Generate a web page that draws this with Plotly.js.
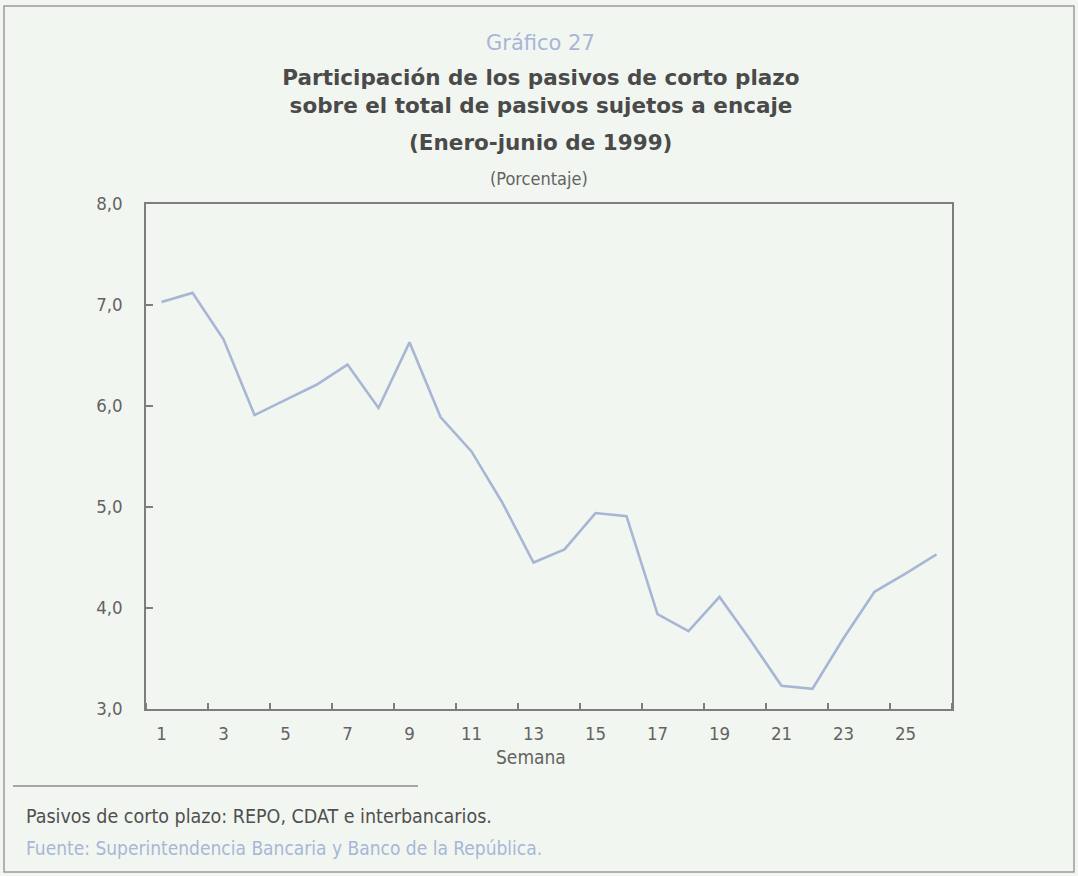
<!DOCTYPE html>
<html>
<head>
<meta charset="utf-8">
<script src="https://cdn.plot.ly/plotly-3.0.1.min.js"></script>
<style>html,body{margin:0;padding:0;background:#f2f6f1;}</style>
</head>
<body>
<div id="chart" style="width:1078px;height:876px;"></div>
<script>
// Data
const weeks = [1,2,3,4,5,6,7,8,9,10,11,12,13,14,15,16,17,18,19,20,21,22,23,24,25,26];
const shortTermShare = [7.03,7.12,6.66,5.91,6.06,6.21,6.41,5.98,6.63,5.89,5.55,5.04,4.45,4.58,4.94,4.91,3.94,3.77,4.11,3.68,3.23,3.20,3.70,4.16,4.34,4.53];
const xTickVals = [1,3,5,7,9,11,13,15,17,19,21,23,25];
const xTickText = ['1','3','5','7','9','11','13','15','17','19','21','23','25'];
const yTickVals = [3,4,5,6,7,8];

const narrow = '"DejaVu Sans Condensed", "Liberation Sans Narrow", sans-serif';
const wide = '"DejaVu Sans", "Liberation Sans", sans-serif';
const grey = '#636363';
const titleGrey = '#4a4a4a';
const lightBlue = '#a8b6d6';
const axisGrey = '#7d7d7d';

// plot box in pixels: left 146, right 952, top 204, bottom 709
const L = 146, R = 952, T = 204, B = 709;
const W = R - L, H = B - T;
const px = x => (x - L) / W;
const py = y => (B - y) / H;

const trace = {
  x: weeks, y: shortTermShare, type: 'scatter', mode: 'lines',
  line: {color: lightBlue, width: 2.6}, hoverinfo: 'x+y', showlegend: false
};

const layout = {
  width: 1078, height: 876,
  margin: {l: L, r: 1078 - R, t: T, b: 876 - B},
  paper_bgcolor: '#f2f6f1', plot_bgcolor: '#f2f6f1',
  separators: ',.',
  title: {
    text: 'Participación de los pasivos de corto plazo<br>sobre el total de pasivos sujetos a encaje',
    font: {family: wide, size: 21.5, color: titleGrey, weight: 'bold'},
    xref: 'container', yref: 'container', x: 541 / 1078, xanchor: 'center',
    y: 1 - 85 / 876, yanchor: 'middle'
  },
  xaxis: {
    range: [0.5, 26.5], tickmode: 'array', tickvals: xTickVals, ticktext: xTickText,
    ticks: '', showline: true, mirror: true, linecolor: axisGrey, linewidth: 1.6,
    showgrid: false, zeroline: false, ticklabelstandoff: 7,
    tickfont: {family: narrow, size: 18.5, color: grey},
    minor: {tickmode: 'linear', tick0: 0.5, dtick: 2, ticks: 'inside', ticklen: 6,
            tickcolor: axisGrey, tickwidth: 1.5, showgrid: false}
  },
  yaxis: {
    range: [3, 8], tickmode: 'array', tickvals: yTickVals, tickformat: '.1f',
    ticks: 'inside', ticklen: 7, tickcolor: axisGrey, tickwidth: 1.5,
    showline: true, mirror: true, linecolor: axisGrey, linewidth: 1.6,
    showgrid: false, zeroline: false, ticklabelstandoff: 18,
    tickfont: {family: narrow, size: 18.5, color: grey}
  },
  annotations: [
    {text: 'Gráfico 27', xref: 'paper', yref: 'paper', x: px(540), y: py(43),
     showarrow: false, xanchor: 'center', yanchor: 'middle',
     font: {family: wide, size: 21, color: lightBlue}},
    {text: '(Enero-junio de 1999)', xref: 'paper', yref: 'paper', x: px(540), y: py(143),
     showarrow: false, xanchor: 'center', yanchor: 'middle',
     font: {family: wide, size: 21.5, color: titleGrey, weight: 'bold'}},
    {text: '(Porcentaje)', xref: 'paper', yref: 'paper', x: px(539), y: py(179),
     showarrow: false, xanchor: 'center', yanchor: 'middle',
     font: {family: narrow, size: 18, color: grey}},
    {text: 'Semana', xref: 'paper', yref: 'paper', x: px(531), y: py(757),
     showarrow: false, xanchor: 'center', yanchor: 'middle',
     font: {family: narrow, size: 19, color: grey}},
    {text: 'Pasivos de corto plazo: REPO, CDAT e interbancarios.', xref: 'paper', yref: 'paper',
     x: px(24), y: py(816), showarrow: false, xanchor: 'left', yanchor: 'middle',
     font: {family: narrow, size: 19.5, color: '#4f4f4f'}},
    {text: 'Fuente: Superintendencia Bancaria y Banco de la República.', xref: 'paper', yref: 'paper',
     x: px(24), y: py(848), showarrow: false, xanchor: 'left', yanchor: 'middle',
     font: {family: narrow, size: 19, color: lightBlue}}
  ],
  shapes: [
    {type: 'line', xref: 'paper', yref: 'paper', x0: px(13), x1: px(418), y0: py(786), y1: py(786),
     line: {color: '#8a8a8a', width: 1.5}},
    {type: 'rect', xref: 'paper', yref: 'paper', x0: px(4), x1: px(1074), y0: py(872), y1: py(6),
     line: {color: '#9a9a9a', width: 1.5}, fillcolor: 'rgba(0,0,0,0)'}
  ]
};

Plotly.newPlot('chart', [trace], layout, {displayModeBar: false, staticPlot: true});
</script>
</body>
</html>
